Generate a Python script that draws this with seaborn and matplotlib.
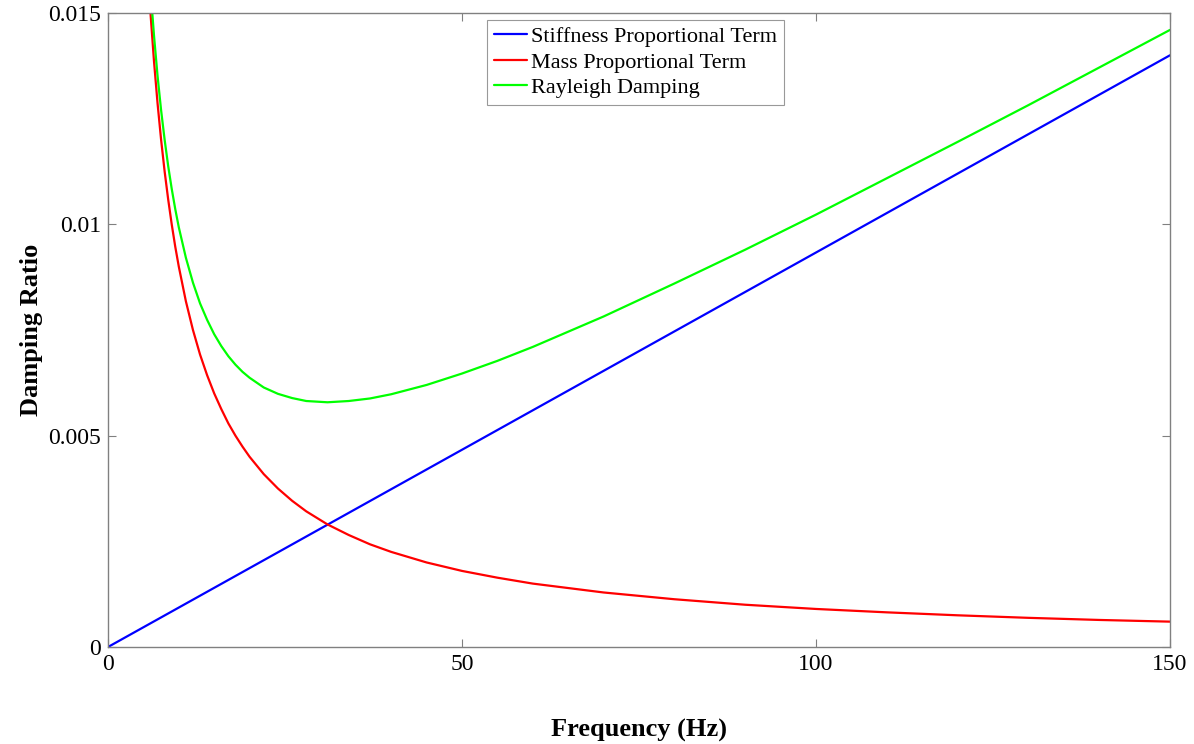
import numpy as np
import pandas as pd
import seaborn as sns
import matplotlib
matplotlib.use("Agg")
import matplotlib.pyplot as plt

# Values
freq = [5, 5.5, 6, 6.5, 7, 7.5, 8, 8.5, 9, 9.5, 10, 11, 12, 13, 14, 15, 16, 17, 18, 19, 20,
        22, 24, 26, 28, 31, 34, 37, 40, 45, 50, 55, 60, 70, 80, 90, 100, 110, 120, 130, 140, 150]
mass_term = [0.0180, 0.01636, 0.0150, 0.01385, 0.01286, 0.0120, 0.01125, 0.01059, 0.0100,
             0.00947, 0.0090, 0.00818, 0.0075, 0.00692, 0.00643, 0.0060, 0.00563, 0.00529,
             0.0050, 0.00474, 0.0045, 0.00409, 0.00375, 0.00346, 0.00321, 0.0029, 0.00265,
             0.00243, 0.00225, 0.0020, 0.0018, 0.00164, 0.0015, 0.00129, 0.00113, 0.0010,
             0.0009, 0.00082, 0.00075, 0.00069, 0.00064, 0.0006]
rayleigh = [0.01847, 0.01687, 0.01556, 0.01446, 0.01351, 0.0127, 0.012, 0.01138, 0.01084,
            0.01036, 0.00993, 0.00921, 0.00862, 0.00813, 0.00774, 0.0074, 0.00712, 0.00688,
            0.00668, 0.00651, 0.00637, 0.00614, 0.00599, 0.00589, 0.00582, 0.00579, 0.00582,
            0.00588, 0.00598, 0.0062, 0.00647, 0.00677, 0.0071, 0.00782, 0.0086, 0.0094,
            0.01023, 0.01109, 0.01195, 0.01282, 0.01371, 0.0146]
stiff_freq = [0, 150]
stiff_line = [0.0, 0.0140]

series_names = ["Stiffness Proportional Term", "Mass Proportional Term", "Rayleigh Damping"]
colors = ["#0000ff", "#ff0000", "#00ff00"]

sns.set_theme(style="white")
plt.rcParams["font.family"] = ["Liberation Serif", "DejaVu Serif"]
plt.rcParams["text.color"] = "black"
plt.rcParams["axes.labelcolor"] = "black"

fig = plt.figure(figsize=(11.94, 7.44), dpi=100)
ax = fig.add_axes([108 / 1194, 1 - 647 / 744, (1170 - 108) / 1194, (647 - 13) / 744])

df_s = pd.DataFrame({"f": stiff_freq, "v": stiff_line})
df_m = pd.DataFrame({"f": freq, "v": mass_term})
df_r = pd.DataFrame({"f": freq, "v": rayleigh})

sns.lineplot(data=df_s, x="f", y="v", ax=ax, color=colors[0], lw=1.6, label=series_names[0])
sns.lineplot(data=df_m, x="f", y="v", ax=ax, color=colors[1], lw=1.6, label=series_names[1])
sns.lineplot(data=df_r, x="f", y="v", ax=ax, color=colors[2], lw=1.6, label=series_names[2])

ax.set_xlim(0, 150)
ax.set_ylim(0, 0.015)
ax.set_xticks([0, 50, 100, 150])
ax.set_xticklabels(["0", "50", "100", "150"])
ax.set_yticks([0, 0.005, 0.01, 0.015])
ax.set_yticklabels(["0", "0.005", "0.01", "0.015"])
ax.tick_params(direction="in", length=6, width=0.8, color="#808080", labelsize=17,
               top=True, right=True, left=True, bottom=True, pad=5, labelcolor="black")
for sp in ax.spines.values():
    sp.set_color("#808080")
    sp.set_linewidth(1.0)

ax.set_xlabel("Frequency (Hz)", fontsize=19, fontweight="bold", labelpad=32, color="black")
ax.set_ylabel("Damping Ratio", fontsize=19, fontweight="bold", labelpad=4, color="black")

leg = ax.legend(loc="upper left", bbox_to_anchor=((487 - 108) / 1062, (647 - 20) / 634),
                fontsize=16, frameon=True, fancybox=False, borderpad=0.3, handlelength=1.5,
                handletextpad=0.2, labelspacing=0.22, borderaxespad=0)
for t in leg.get_texts():
    t.set_color("black")
leg.get_frame().set_edgecolor("#808080")
leg.get_frame().set_linewidth(0.8)

fig.savefig("out.png", dpi=100, facecolor="white")
